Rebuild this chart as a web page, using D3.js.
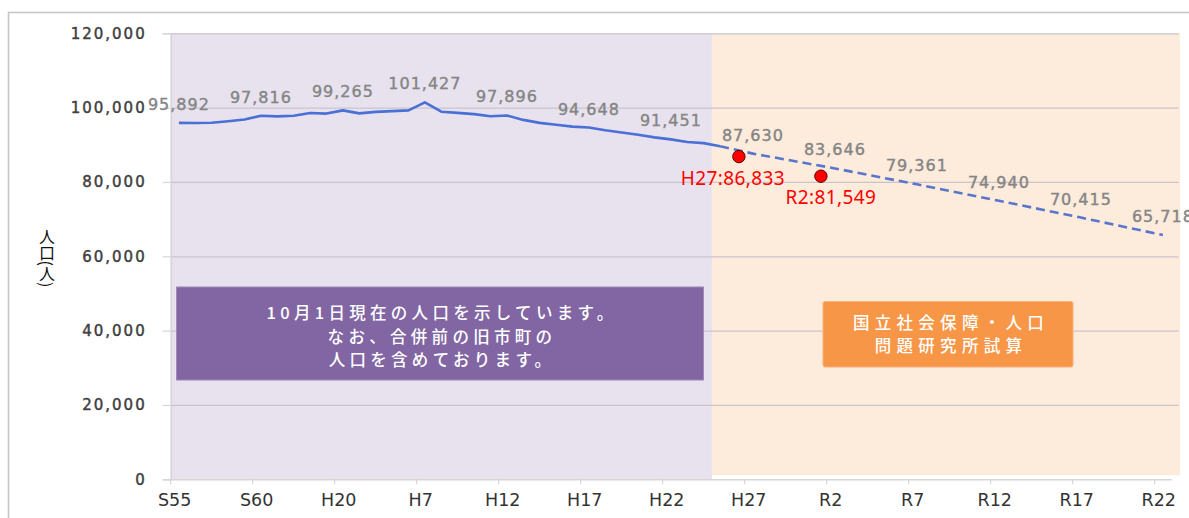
<!DOCTYPE html>
<html>
<head>
<meta charset="utf-8">
<script src="https://cdn.jsdelivr.net/npm/d3@7"></script>
<style>
  body { margin: 0; background: #fff; }
  svg { display: block; }
</style>
</head>
<body>
<div id="chart"></div>
<script>
// DATA //
// one category per year, S55 (1980) .. R22 (2040)
const years = d3.range(1980, 2041)

const tickYears = [1980, 1985, 1990, 1995, 2000, 2005, 2010, 2015, 2020, 2025, 2030, 2035, 2040]
const tickLabels = ["S55", "S60", "H20", "H7", "H12", "H17", "H22", "H27", "R2", "R7", "R12", "R17", "R22"]

// census population (solid line)
const actualYears = d3.range(1980, 2014)
const actualPop = [
    95892, 95880, 95950, 96350, 96800, 97816, 97650, 97800, 98550, 98400,
    99265, 98450, 98850, 99050, 99250, 101427, 98900, 98600, 98250, 97700,
    97896, 96700, 95900, 95400, 94900, 94648, 93900, 93300, 92700, 92000,
    91451, 90750, 90450, 89600
]

// projection (dashed line)
const projYears = [2015, 2020, 2025, 2030, 2035, 2040]
const projPop = [87630, 83646, 79361, 74940, 70415, 65718]

// which years get a grey value label
const labelYears = [1980, 1985, 1990, 1995, 2000, 2005, 2010]

// red markers
const markerYears = [2015, 2020]
const markerPop = [86833, 81549]
const markerLabels = ["H27:86,833", "R2:81,549"]

const yTicks = [0, 20000, 40000, 60000, 80000, 100000, 120000]

const noteLines = ["10月1日現在の人口を示しています。", "なお、合併前の旧市町の", "人口を含めております。"]
const projNoteLines = ["国立社会保障・人口", "問題研究所試算"]

// GLOBAL VARIABLES //
const width = 1189
const height = 518

let dimensions = {
    width: width,
    height: height,
    margin: {
        top: 33.3,
        left: 170.7,
    },
    plotRight: 1171.1,
    plotBottom: 479.3,
}

const xScale = d3.scaleBand()
    .domain(years)
    .range([dimensions.margin.left, dimensions.plotRight])
    .padding(0)

const yScale = d3.scaleLinear()
    .domain([0, 120000])
    .range([dimensions.plotBottom, dimensions.margin.top])

const bw = xScale.bandwidth()
const xCenter = yr => xScale(yr) + bw / 2

const svg = d3.select("#chart")
    .append("svg")
    .attr("width", width)
    .attr("height", height)

// outer frame
svg.append("rect")
    .attr("x", 8.5)
    .attr("y", 12.5)
    .attr("width", 1200)
    .attr("height", 600)
    .attr("fill", "none")
    .attr("stroke", "#c6c6c6")
    .attr("stroke-width", 1.6)

// background zones: census / projection
const splitX = xScale(2013)
svg.append("rect")
    .attr("x", dimensions.margin.left)
    .attr("y", yScale(120000))
    .attr("width", splitX - dimensions.margin.left)
    .attr("height", yScale(0) - yScale(120000))
    .attr("fill", "#e7e2ee")

svg.append("rect")
    .attr("x", splitX)
    .attr("y", yScale(120000))
    .attr("width", 1180 - splitX)
    .attr("height", yScale(0) - yScale(120000) - 4)
    .attr("fill", "#fdebdc")

// gridlines
svg.append("g")
    .attr("transform", `translate(${dimensions.margin.left},0)`)
    .call(d3.axisRight(yScale).tickValues(yTicks.slice(1)).tickSize(1008).tickFormat(""))
    .call(g => g.select(".domain").remove())
    .call(g => g.selectAll(".tick line").attr("stroke", "#c9c4cc").attr("stroke-width", 1.2))

// y axis
const yAxis = svg.append("g")
    .attr("transform", `translate(${dimensions.margin.left},0)`)
    .call(d3.axisLeft(yScale).tickValues(yTicks).tickSize(8).tickPadding(16)
        .tickFormat(d3.format(",")))

yAxis.select(".domain").attr("stroke", "#d6d6d6").attr("stroke-width", 1.5)
yAxis.selectAll(".tick line").attr("stroke", "#d6d6d6").attr("stroke-width", 1.2)
yAxis.selectAll(".tick text")
    .attr("fill", "#404040")
    .attr("stroke", "#404040")
    .attr("stroke-width", 0.45)
    .style("font-family", "DejaVu Sans")
    .style("font-size", "15px")
    .style("letter-spacing", "2px")

// x axis
const xAxis = svg.append("g")
    .attr("transform", `translate(0,${dimensions.plotBottom})`)
    .call(d3.axisBottom(xScale).tickValues(tickYears).tickSize(5).tickSizeOuter(0)
        .tickFormat(d => tickLabels[tickYears.indexOf(d)]))

xAxis.select(".domain").attr("stroke", "#d6d6d6").attr("stroke-width", 1.5)
xAxis.selectAll(".tick line")
    .attr("x1", -bw / 2).attr("x2", -bw / 2)
    .attr("stroke", "#cfcfcf")
xAxis.selectAll(".tick text")
    .attr("x", -bw / 2 + 4)
    .attr("dy", "1.05em")
    .attr("fill", "#333")
    .style("font-family", "DejaVu Sans")
    .style("font-size", "17.5px")

// y axis title (vertical)
svg.append("text")
    .attr("x", 47)
    .attr("y", 258)
    .attr("text-anchor", "middle")
    .style("writing-mode", "vertical-rl")
    .style("font-family", "Noto Sans CJK JP")
    .style("font-size", "16px")
    .attr("fill", "#111")
    .text("人口(人)")

// lines
const lineGen = d3.line()
    .x(d => xCenter(d[0]))
    .y(d => yScale(d[1]))

const actualData = actualYears.map((y, i) => [y, actualPop[i]])
const projData = [actualData[actualData.length - 1]]
    .concat(projYears.map((y, i) => [y, projPop[i]]))

svg.append("path")
    .datum(actualData)
    .attr("d", lineGen)
    .attr("fill", "none")
    .attr("stroke", "#4a6fd6")
    .attr("stroke-width", 2.6)
    .attr("stroke-linejoin", "round")

svg.append("path")
    .datum(projData)
    .attr("d", lineGen)
    .attr("fill", "none")
    .attr("stroke", "#5b74cc")
    .attr("stroke-width", 2.6)
    .attr("stroke-dasharray", "9,5")

// value labels
const labelData = actualData.filter(d => labelYears.includes(d[0]))
    .concat(projYears.map((y, i) => [y, projPop[i]]))

svg.append("g")
    .selectAll("text")
    .data(labelData)
    .join("text")
    .attr("x", d => xCenter(d[0]))
    .attr("y", d => yScale(d[1]) - 13)
    .attr("text-anchor", "middle")
    .attr("fill", "#858585")
    .attr("stroke", "#858585")
    .attr("stroke-width", 0.4)
    .style("font-family", "DejaVu Sans")
    .style("font-size", "16px")
    .style("letter-spacing", "1px")
    .text(d => d3.format(",")(d[1]))

// red markers
const markerData = markerYears.map((y, i) => ({ year: y, pop: markerPop[i], label: markerLabels[i] }))
const markerDx = [-6, 10]

svg.append("g")
    .selectAll("circle")
    .data(markerData)
    .join("circle")
    .attr("cx", d => xCenter(d.year) - 14)
    .attr("cy", d => yScale(d.pop))
    .attr("r", 6.2)
    .attr("fill", "#ff0000")
    .attr("stroke", "#5a0000")
    .attr("stroke-width", 1)

svg.append("g")
    .selectAll("text")
    .data(markerData)
    .join("text")
    .attr("x", (d, i) => xCenter(d.year) - 14 + markerDx[i])
    .attr("y", d => yScale(d.pop) + 28)
    .attr("text-anchor", "middle")
    .attr("fill", "#ff0000")
    .style("font-family", "Noto Sans")
    .style("font-size", "19px")
    .style("letter-spacing", "0.4px")
    .text(d => d.label)

// note boxes
svg.append("rect")
    .attr("x", 176.5)
    .attr("y", 287)
    .attr("width", 527)
    .attr("height", 93)
    .attr("fill", "#8166a3")
    .attr("stroke", "#9c88b9")

svg.append("g")
    .selectAll("text")
    .data(noteLines)
    .join("text")
    .attr("x", 442)
    .attr("y", (d, i) => 319 + i * 23.5)
    .attr("text-anchor", "middle")
    .attr("fill", "#fff")
    .style("font-family", "Noto Sans CJK JP")
    .style("font-weight", 500)
    .style("font-size", "16.5px")
    .style("letter-spacing", "4.3px")
    .text(d => d)

svg.append("rect")
    .attr("x", 823)
    .attr("y", 301.5)
    .attr("width", 250)
    .attr("height", 65.5)
    .attr("rx", 2)
    .attr("fill", "#f79646")
    .attr("stroke", "#fbb27a")

svg.append("g")
    .selectAll("text")
    .data(projNoteLines)
    .join("text")
    .attr("x", 951)
    .attr("y", (d, i) => 328.5 + i * 23.5)
    .attr("text-anchor", "middle")
    .attr("fill", "#fff")
    .style("font-family", "Noto Sans CJK JP")
    .style("font-weight", 500)
    .style("font-size", "16.5px")
    .style("letter-spacing", "5.3px")
    .text(d => d)
</script>
</body>
</html>
